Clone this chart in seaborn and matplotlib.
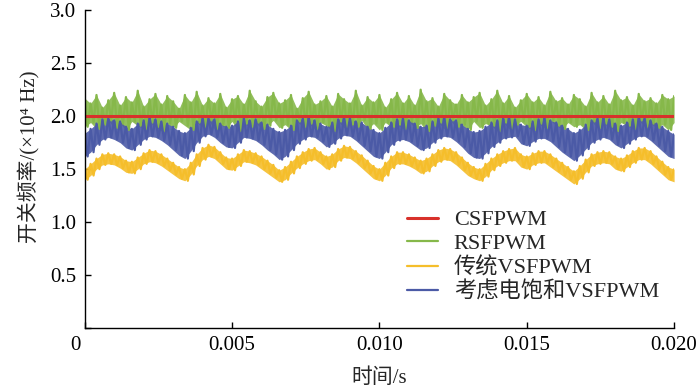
import numpy as np
import pandas as pd
import seaborn as sns
import matplotlib
matplotlib.use('Agg')
import matplotlib.pyplot as plt
import matplotlib.transforms as mtransforms

# switching frequency (x10^4 Hz), every 0.2 ms
# each scheme: upper envelope and lower envelope of the switching ripple
rs_upper = [2.17, 2.12, 2.20, 2.08, 2.15, 2.22, 2.10, 2.18, 2.13, 2.24, 2.09, 2.16, 2.21, 2.11, 2.19, 2.14, 2.07,
            2.20, 2.13, 2.23, 2.10, 2.17, 2.12, 2.21, 2.08, 2.16, 2.19, 2.11, 2.24, 2.14, 2.09, 2.18, 2.22, 2.12,
            2.15, 2.20, 2.07, 2.17, 2.23, 2.11, 2.14, 2.19, 2.09, 2.21, 2.16, 2.12, 2.24, 2.10, 2.18, 2.13, 2.20,
            2.08, 2.16, 2.22, 2.12, 2.19, 2.10, 2.25, 2.14, 2.17, 2.09, 2.21, 2.15, 2.11, 2.20, 2.13, 2.18,
            2.22, 2.10, 2.16, 2.24, 2.12, 2.19, 2.08, 2.15, 2.21, 2.13, 2.18, 2.10, 2.23, 2.14, 2.17, 2.11, 2.20,
            2.16, 2.09, 2.22, 2.13, 2.19, 2.11, 2.24, 2.15, 2.18, 2.10, 2.21, 2.14, 2.17, 2.12, 2.20, 2.16, 2.19]
rs_lower = [1.90, 1.94, 1.88, 1.92, 1.96, 1.89, 1.93, 1.87, 1.95, 1.91, 1.88, 1.94, 1.90, 1.86, 1.93, 1.89, 1.95,
            1.91, 1.87, 1.94, 1.90, 1.96, 1.88, 1.92, 1.89, 1.95, 1.86, 1.93, 1.90, 1.94, 1.88, 1.91, 1.96, 1.89,
            1.92, 1.87, 1.95, 1.90, 1.93, 1.88, 1.94, 1.91, 1.86, 1.95, 1.89, 1.92, 1.90, 1.96, 1.88, 1.93, 1.87,
            1.94, 1.90, 1.92, 1.88, 1.95, 1.89, 1.93, 1.86, 1.91, 1.94, 1.88, 1.96, 1.90, 1.92, 1.87, 1.95,
            1.89, 1.93, 1.91, 1.86, 1.94, 1.88, 1.92, 1.95, 1.90, 1.87, 1.93, 1.89, 1.96, 1.91, 1.88, 1.94, 1.90,
            1.92, 1.87, 1.95, 1.89, 1.93, 1.90, 1.86, 1.94, 1.91, 1.88, 1.96, 1.90, 1.93, 1.89, 1.92, 1.87, 1.94]

vs_upper = [1.50, 1.55, 1.60, 1.64, 1.65, 1.64, 1.62, 1.58, 1.57, 1.61, 1.65, 1.68, 1.67, 1.64, 1.60, 1.56, 1.52,
            1.50, 1.56, 1.64, 1.70, 1.73, 1.71, 1.66, 1.61, 1.60, 1.64, 1.68, 1.67, 1.65, 1.62, 1.58, 1.54, 1.49,
            1.52, 1.57, 1.62, 1.66, 1.69, 1.70, 1.66, 1.62, 1.64, 1.69, 1.72, 1.71, 1.67, 1.63, 1.58, 1.53, 1.50,
            1.56, 1.62, 1.66, 1.66, 1.64, 1.61, 1.58, 1.60, 1.64, 1.68, 1.70, 1.69, 1.66, 1.61, 1.56, 1.52,
            1.50, 1.55, 1.60, 1.64, 1.67, 1.69, 1.70, 1.64, 1.62, 1.65, 1.67, 1.67, 1.64, 1.60, 1.56, 1.52, 1.48,
            1.53, 1.59, 1.64, 1.66, 1.67, 1.66, 1.62, 1.60, 1.63, 1.67, 1.70, 1.70, 1.67, 1.62, 1.57, 1.52, 1.50]
vs_lower = [1.40, 1.44, 1.50, 1.54, 1.55, 1.54, 1.51, 1.47, 1.46, 1.50, 1.55, 1.57, 1.56, 1.53, 1.49, 1.45, 1.41,
            1.39, 1.45, 1.53, 1.59, 1.62, 1.60, 1.55, 1.50, 1.49, 1.53, 1.57, 1.56, 1.54, 1.50, 1.46, 1.42, 1.38,
            1.40, 1.46, 1.51, 1.55, 1.58, 1.59, 1.55, 1.50, 1.52, 1.58, 1.61, 1.60, 1.56, 1.51, 1.46, 1.41, 1.39,
            1.44, 1.51, 1.55, 1.55, 1.53, 1.50, 1.46, 1.48, 1.53, 1.57, 1.59, 1.58, 1.54, 1.49, 1.44, 1.41,
            1.39, 1.43, 1.49, 1.53, 1.56, 1.58, 1.58, 1.52, 1.50, 1.54, 1.56, 1.56, 1.52, 1.48, 1.44, 1.40, 1.36,
            1.41, 1.47, 1.53, 1.55, 1.56, 1.55, 1.50, 1.48, 1.52, 1.56, 1.59, 1.59, 1.55, 1.50, 1.45, 1.40, 1.38]

sat_upper = [1.84, 1.88, 1.93, 1.97, 1.98, 1.96, 1.95, 1.90, 1.88, 1.93, 1.96, 1.99, 1.97, 1.95, 1.93, 1.90, 1.86,
             1.84, 1.89, 1.95, 1.99, 1.98, 1.97, 1.93, 1.90, 1.91, 1.95, 1.98, 1.96, 1.97, 1.94, 1.92, 1.88, 1.85,
             1.87, 1.91, 1.96, 1.98, 1.99, 1.96, 1.93, 1.90, 1.94, 1.97, 1.99, 1.98, 1.95, 1.94, 1.90, 1.87, 1.84,
             1.89, 1.94, 1.97, 1.98, 1.96, 1.93, 1.90, 1.91, 1.95, 1.98, 1.99, 1.97, 1.96, 1.92, 1.88, 1.85,
             1.86, 1.90, 1.94, 1.96, 1.98, 1.99, 1.97, 1.92, 1.91, 1.95, 1.97, 1.99, 1.96, 1.94, 1.91, 1.88, 1.84,
             1.87, 1.92, 1.96, 1.98, 1.99, 1.97, 1.93, 1.91, 1.94, 1.97, 1.99, 1.98, 1.96, 1.93, 1.90, 1.86, 1.83]
sat_lower = [1.62, 1.66, 1.73, 1.78, 1.80, 1.78, 1.75, 1.70, 1.68, 1.73, 1.78, 1.81, 1.80, 1.77, 1.73, 1.68, 1.63,
             1.60, 1.67, 1.75, 1.81, 1.83, 1.80, 1.75, 1.71, 1.70, 1.75, 1.80, 1.79, 1.77, 1.73, 1.68, 1.64, 1.59,
             1.62, 1.68, 1.74, 1.78, 1.81, 1.80, 1.76, 1.71, 1.74, 1.79, 1.82, 1.81, 1.77, 1.72, 1.67, 1.62, 1.60,
             1.66, 1.73, 1.77, 1.78, 1.76, 1.72, 1.68, 1.70, 1.75, 1.79, 1.81, 1.80, 1.76, 1.71, 1.65, 1.61,
             1.60, 1.65, 1.71, 1.75, 1.79, 1.80, 1.81, 1.74, 1.72, 1.76, 1.79, 1.79, 1.76, 1.71, 1.66, 1.62, 1.58,
             1.63, 1.69, 1.75, 1.78, 1.80, 1.78, 1.73, 1.70, 1.74, 1.78, 1.81, 1.81, 1.77, 1.72, 1.67, 1.62, 1.60]

cs_freq = 2.0
labels = ['CSFPWM', 'RSFPWM', '传统VSFPWM', '考虑电饱和VSFPWM']
colors = ['#d8312b', '#86b84a', '#f5be2b', '#4b5aa6']
x_ticks = [0, 0.005, 0.010, 0.015, 0.020]
x_ticklabels = ['0', '0.005', '0.010', '0.015', '0.020']
y_ticks = [0, 0.5, 1.0, 1.5, 2.0, 2.5, 3.0]
y_ticklabels = ['', '0.5', '1.0', '1.5', '2.0', '2.5', '3.0']

step = 0.0002


def zigzag(upper, lower):
    t0 = np.arange(len(upper)) * step
    t = np.column_stack([t0, t0 + step / 2]).ravel()
    f = np.column_stack([upper, lower]).ravel()
    return pd.DataFrame({'t': t, 'f': f})


def band(ax, upper, lower, color, label):
    t0 = np.arange(len(upper)) * step
    # dense ripple body
    ax.fill_between(t0, lower, upper, color=color, lw=0, alpha=0.9)
    sns.lineplot(data=zigzag(upper, lower), x='t', y='f', ax=ax, sort=False,
                 estimator=None, color=color, lw=1.6, label=label)


sns.set_theme(style='ticks')
plt.rcParams['font.family'] = ['Liberation Serif', 'Noto Sans CJK SC']

fig = plt.figure(figsize=(7, 3.92), dpi=100)
ax = fig.add_axes([0.121, 0.163, 0.842, 0.811])

band(ax, rs_upper, rs_lower, colors[1], labels[1])
band(ax, sat_upper, sat_lower, colors[3], labels[3])
band(ax, vs_upper, vs_lower, colors[2], labels[2])
cs = pd.DataFrame({'t': [0, 0.02], 'f': [cs_freq, cs_freq]})
sns.lineplot(data=cs, x='t', y='f', ax=ax, color=colors[0], lw=2.2, label=labels[0])

ax.set_xlim(0, 0.020)
ax.set_ylim(0, 3.0)
ax.set_xticks(x_ticks)
ax.set_xticklabels(x_ticklabels)
ax.set_yticks(y_ticks)
ax.set_yticklabels(y_ticklabels)
ax.tick_params(direction='in', length=4, width=1, labelsize=15, colors='black', pad=6)
for s in ['top', 'right']:
    ax.spines[s].set_visible(False)
for s in ['left', 'bottom']:
    ax.spines[s].set_color('black')
    ax.spines[s].set_linewidth(1)
# the corner "0" sits a little left of the origin
first = ax.get_xticklabels()[0]
first.set_transform(first.get_transform() + mtransforms.ScaledTranslation(-9 / 100, 0, fig.dpi_scale_trans))

ax.set_xlabel('时间/s', fontsize=15, labelpad=9)
ax.set_ylabel('开关频率/(×10⁴ Hz)', fontsize=15)
ax.yaxis.set_label_coords(-0.075, 0.54)

handles, labs = ax.get_legend_handles_labels()
order = [labs.index(l) for l in labels]
ax.legend([handles[i] for i in order], labels, loc='upper left', bbox_to_anchor=(0.532, 0.40),
          frameon=False, fontsize=16, handlelength=1.4, handletextpad=0.7, labelspacing=0.14,
          borderaxespad=0)

fig.savefig('out.png', dpi=100)
